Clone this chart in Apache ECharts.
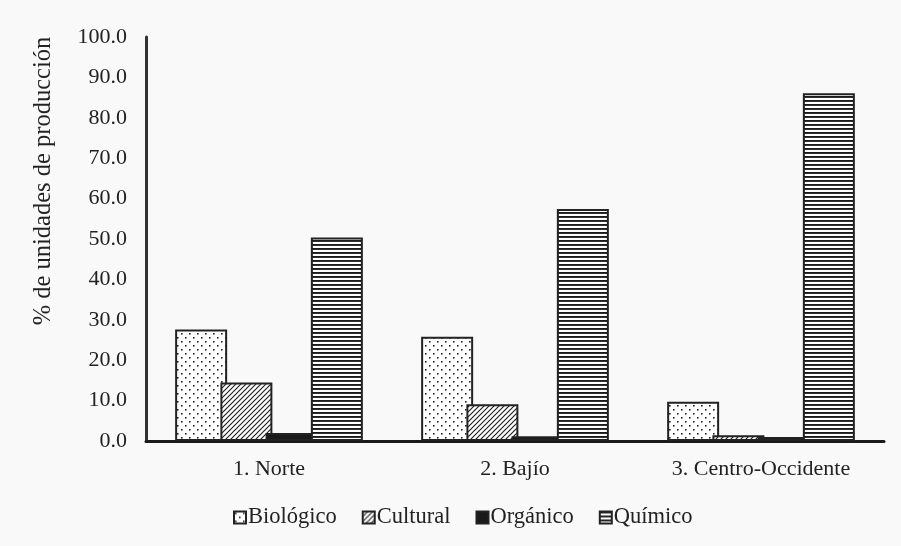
<!DOCTYPE html>
<html>
<head>
<meta charset="utf-8">
<script src="https://cdn.jsdelivr.net/npm/echarts@6/dist/echarts.min.js"></script>
<style>
html,body{margin:0;padding:0;background:#f9f9f9;}
#c{width:901px;height:546px;}
</style>
</head>
<body>
<div id="c"></div>
<script>
const categories = ['1. Norte', '2. Bajío', '3. Centro-Occidente'];
const seriesNames = ['Biológico', 'Cultural', 'Orgánico', 'Químico'];
const biologico = [27.6, 25.8, 9.7];
const cultural = [14.5, 9.1, 1.4];
const organico = [2.0, 1.2, 1.0];
const quimico = [50.4, 57.4, 86.1];
const yTicks = [0, 10, 20, 30, 40, 50, 60, 70, 80, 90, 100];
const yTitle = '% de unidades de producción';

function tile(w, h, draw) {
  const c = document.createElement('canvas');
  c.width = w; c.height = h;
  const g = c.getContext('2d');
  g.fillStyle = '#ffffff';
  g.fillRect(0, 0, w, h);
  draw(g);
  return { image: c, repeat: 'repeat' };
}
const dotPat = tile(8, 8, g => {
  g.fillStyle = '#222';
  g.fillRect(1, 1, 1.6, 1.6);
  g.fillRect(5, 5, 1.6, 1.6);
});
const hatchPat = tile(5, 5, g => {
  g.strokeStyle = '#222';
  g.lineWidth = 1.2;
  g.beginPath();
  g.moveTo(-1, 6); g.lineTo(6, -1);
  g.moveTo(-6, 6); g.lineTo(1, -1);
  g.moveTo(4, 6); g.lineTo(11, -1);
  g.stroke();
});
const horizPat = tile(4, 4, g => {
  g.fillStyle = '#1a1a1a';
  g.fillRect(0, 0, 4, 1.9);
});

const fills = [dotPat, hatchPat, '#1a1a1a', horizPat];
const datas = [biologico, cultural, organico, quimico];
const FONT = 'Liberation Serif';

const chart = echarts.init(document.getElementById('c'), null, {renderer: 'canvas'});
chart.setOption({
  backgroundColor: '#f9f9f9',
  animation: false,
  grid: { left: 146, right: 17, top: 37, bottom: 105 },
  xAxis: {
    type: 'category',
    data: categories,
    axisLine: { lineStyle: { color: '#1a1a1a', width: 3 } },
    axisTick: { show: false },
    axisLabel: { fontFamily: FONT, fontSize: 22, color: '#222', margin: 17 }
  },
  yAxis: {
    type: 'value',
    min: yTicks[0], max: yTicks[yTicks.length - 1], interval: 10,
    splitLine: { show: false },
    axisTick: { show: false },
    axisLine: { show: true, lineStyle: { color: '#333', width: 3 } },
    axisLabel: { fontFamily: FONT, fontSize: 22, color: '#222', margin: 19,
      formatter: v => v.toFixed(1) }
  },
  legend: {
    bottom: 17, left: 233, padding: 0,
    itemWidth: 12, itemHeight: 12, itemGap: 25,
    icon: 'rect',
    textStyle: { fontFamily: FONT, fontSize: 22.5, color: '#222', padding: [0,0,0,-3] },
    data: seriesNames
  },
  graphic: [{
    type: 'text', x: 44, y: 181, rotation: Math.PI / 2,
    style: { text: yTitle, font: '24.5px "Liberation Serif"', fill: '#222',
      textAlign: 'center', textVerticalAlign: 'middle' }
  }],
  series: seriesNames.map((n, i) => ({
    name: n, type: 'bar', data: datas[i],
    barWidth: 52, barGap: '-13%',
    itemStyle: { color: fills[i], borderColor: '#222', borderWidth: 2 }
  }))
});
</script>
</body>
</html>
